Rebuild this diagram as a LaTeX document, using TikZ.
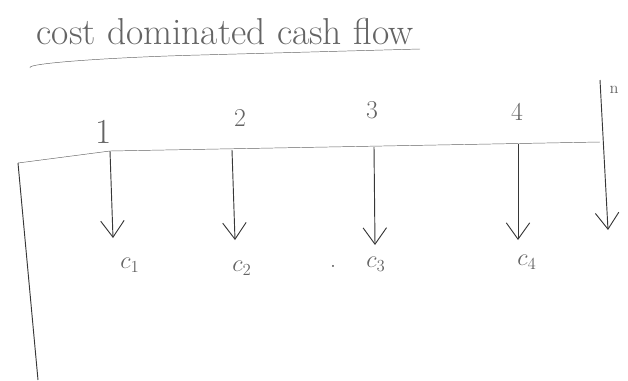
\documentclass[tikz,border=0pt]{standalone}
\usepackage{tikz}
\usetikzlibrary{arrows.meta,positioning}
\definecolor{inkcolor}{RGB}{55,55,55}
\definecolor{pencolor}{RGB}{100,100,100}
\tikzset{
  flow arrow/.style={
    -{Straight Barb[length=14pt,width=20pt]},
    draw=inkcolor,
    thick
  },
  time line/.style={
    draw=pencolor,
    thin
  },
  title text/.style={
    text=pencolor,
    inner sep=0pt,
    font=\fontsize{32}{34}\selectfont
  },
  period label/.style={
    text=pencolor,
    inner sep=0pt,
    font=\fontsize{22}{24}\selectfont
  },
  cost label/.style={
    text=pencolor,
    inner sep=0pt,
    font=\fontsize{22}{24}\selectfont
  }
}

\begin{document}
\begin{tikzpicture}[x=0.03cm,y=-0.03cm]
  \useasboundingbox (0,0) rectangle (628,380);
  % title with its underline
  \node[title text] (title) at (225,31) {cost dominated cash flow};
  \draw[time line] (30,68) .. controls (24,63) and (120,57) .. (200,55) -- (420,49);

  % time line
  \coordinate (t0) at (18,163);
  \coordinate (t1) at (110,151);
  \coordinate (t2) at (232,150);
  \coordinate (t3) at (374,147);
  \coordinate (t4) at (518,144);
  \coordinate (tn) at (600,142);
  \coordinate (b0) at (38,380);
  \draw[time line] (t0) -- (t1) -- (tn);
  \draw[draw=inkcolor, thick] (t0) -- (b0);

  % period numbers
  \node[period label, font=\fontsize{30}{32}\selectfont] (p1) at (104,132) {1};
  \node[period label] (p2) at (240,118) {2};
  \node[period label] (p3) at (372,110) {3};
  \node[period label] (p4) at (517,112) {4};
  \node[period label, font=\fontsize{14}{16}\selectfont] (pn) at (614,90) {n};

  % costs
  \node[cost label] (c1) at (130,265) {$c_1$};
  \node[cost label] (c2) at (242,268) {$c_2$};
  \node[cost label] (dot) at (333,266) {.};
  \node[cost label] (c3) at (376,264) {$c_3$};
  \node[cost label] (c4) at (527,262) {$c_4$};

  \coordinate (e1) at (113,238);
  \coordinate (e2) at (235,240);
  \coordinate (e3) at (375,245);
  \coordinate (e4) at (518,240);
  \coordinate (sn) at (600,80);
  \coordinate (en) at (608,230);

  \draw[flow arrow] (t1) -- (e1);
  \draw[flow arrow] (t2) -- (e2);
  \draw[flow arrow] (t3) -- (e3);
  \draw[flow arrow] (t4) -- (e4);
  \draw[flow arrow] (sn) -- (en);
\end{tikzpicture}
\end{document}
